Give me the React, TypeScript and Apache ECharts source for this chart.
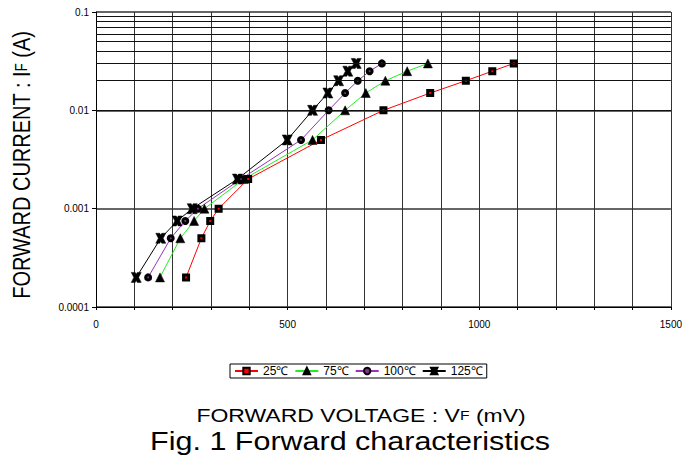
import React, { useEffect, useRef } from "react";
import * as echarts from "echarts";

const currents = [0.0002, 0.0005, 0.00075, 0.001, 0.002, 0.005, 0.01, 0.015, 0.02, 0.025, 0.03];
const v25 = [235, 275, 298, 320, 397, 587, 750, 872, 965, 1034, 1090];
const v75 = [167, 220, 256, 283, 386, 565, 650, 704, 755, 812, 866];
const v100 = [136, 195, 233, 266, 378, 535, 607, 650, 683, 714, 746];
const v125 = [105, 169, 212, 251, 369, 499, 565, 605, 633, 657, 679];
const seriesNames = ["25℃", "75℃", "100℃", "125℃"];
const xLabels = [0, 500, 1000, 1500];
const yDecades = [0.0001, 0.001, 0.01, 0.1];
const minorMultipliers = [2, 3, 4, 5, 6, 7, 8, 9];

const FONT = "'Liberation Sans', Arial, sans-serif";
const XMARK = "path://M0,0 L4,0 L5,1.8 L6,0 L10,0 L7.4,5 L10,10 L6,10 L5,8.2 L4,10 L0,10 L2.6,5 Z";
const STRETCH = 1.21;

export default function App() {
  const ref = useRef<HTMLDivElement>(null);
  useEffect(() => {
    if (!ref.current) return;
    const chart = echarts.init(ref.current, null, { renderer: "svg" });
    const minorVals: number[] = [];
    for (let d = 0; d < yDecades.length - 1; d++) {
      for (const m of minorMultipliers) minorVals.push(Number((yDecades[d] * m).toPrecision(2)));
    }
    const mk = (vs: number[]) => vs.map((v, i) => [v, currents[i]]);
    const lineSeries = (
      name: string,
      vs: number[],
      color: string,
      symbol: string,
      symbolColor: string,
      size: number,
      border: number
    ) => ({
      name,
      type: "line",
      data: mk(vs),
      symbol,
      symbolSize: size,
      lineStyle: { color, width: 1 },
      itemStyle: { color: symbolColor, borderColor: "#000", borderWidth: border },
      z: 3,
    });
    chart.setOption({
      animation: false,
      backgroundColor: "#fff",
      textStyle: { fontFamily: FONT },
      grid: { left: 96, right: 11, top: 12, bottom: 152 },
      xAxis: {
        type: "value",
        min: 0,
        max: 1500,
        interval: 100,
        axisLine: { lineStyle: { color: "#000", width: 1 } },
        axisTick: { show: true, length: 3, lineStyle: { color: "#000" } },
        axisLabel: {
          color: "#000",
          fontSize: 10,
          fontFamily: FONT,
          margin: 12,
          formatter: (v: number) => (xLabels.includes(v) ? String(v) : ""),
        },
        splitLine: { show: true, lineStyle: { color: "#333", width: 1 } },
      },
      yAxis: {
        type: "log",
        logBase: 10,
        min: 0.0001,
        max: 0.1,
        axisLine: { lineStyle: { color: "#000", width: 1 } },
        axisTick: { show: true, length: 4, lineStyle: { color: "#000" } },
        axisLabel: {
          color: "#000",
          fontSize: 10,
          fontFamily: FONT,
          margin: 7,
          formatter: (v: number) => String(Number(v.toPrecision(1))),
        },
        splitLine: { show: true, lineStyle: { color: "#666", width: 2 } },
        minorTick: { show: false },
        minorSplitLine: { show: false },
      },
      legend: {
        data: seriesNames,
        left: 230,
        top: 364,
        orient: "horizontal",
        borderColor: "#000",
        borderWidth: 1,
        padding: [1, 4, 1, 4],
        itemGap: 6,
        itemWidth: 23,
        itemHeight: 8,
        textStyle: { fontSize: 12, color: "#000", fontFamily: FONT },
      },
      graphic: [
        {
          type: "text",
          x: 22,
          y: 165,
          rotation: Math.PI / 2,
          scaleY: STRETCH,
          style: {
            text: "{a|FORWARD CURRENT : I}{b|F}{a| (A)}",
            rich: {
              a: { fontSize: 20, fontFamily: FONT, fill: "#000" },
              b: { fontSize: 13, fontFamily: FONT, fill: "#000" },
            },
            textAlign: "center",
            textVerticalAlign: "middle",
          },
        },
        {
          type: "text",
          x: 361,
          y: 415,
          scaleX: STRETCH,
          style: {
            text: "{a|FORWARD VOLTAGE : V}{b|F}{a| (mV)}",
            rich: {
              a: { fontSize: 19, fontFamily: FONT, fill: "#000" },
              b: { fontSize: 13, fontFamily: FONT, fill: "#000" },
            },
            textAlign: "center",
            textVerticalAlign: "middle",
          },
        },
        {
          type: "text",
          x: 350,
          y: 441,
          scaleX: 1.22,
          style: {
            text: "Fig. 1 Forward characteristics",
            font: "25px " + FONT,
            fill: "#000",
            textAlign: "center",
            textVerticalAlign: "middle",
          },
        },
      ],
      series: [
        {
          name: "grid-minor",
          type: "line",
          data: [],
          silent: true,
          z: 1,
          markLine: {
            silent: true,
            symbol: ["none", "none"],
            label: { show: false },
            lineStyle: { color: "#111", width: 1, type: "solid" },
            emphasis: { disabled: true },
            data: minorVals.map((v) => ({ yAxis: v })),
          },
        },
        lineSeries(seriesNames[0], v25, "#ff0000", "rect", "#ff0000", 5, 3),
        lineSeries(seriesNames[1], v75, "#22ee22", "triangle", "#000", 9, 0.5),
        lineSeries(seriesNames[2], v100, "#9933bb", "circle", "#8a2a9a", 5, 3),
        lineSeries(seriesNames[3], v125, "#000000", XMARK, "#000", 10, 0.5),
      ],
    });
    return () => chart.dispose();
  }, []);
  return <div ref={ref} style={{ width: 685, height: 459, position: "absolute", left: 0, top: 0 }} />;
}
